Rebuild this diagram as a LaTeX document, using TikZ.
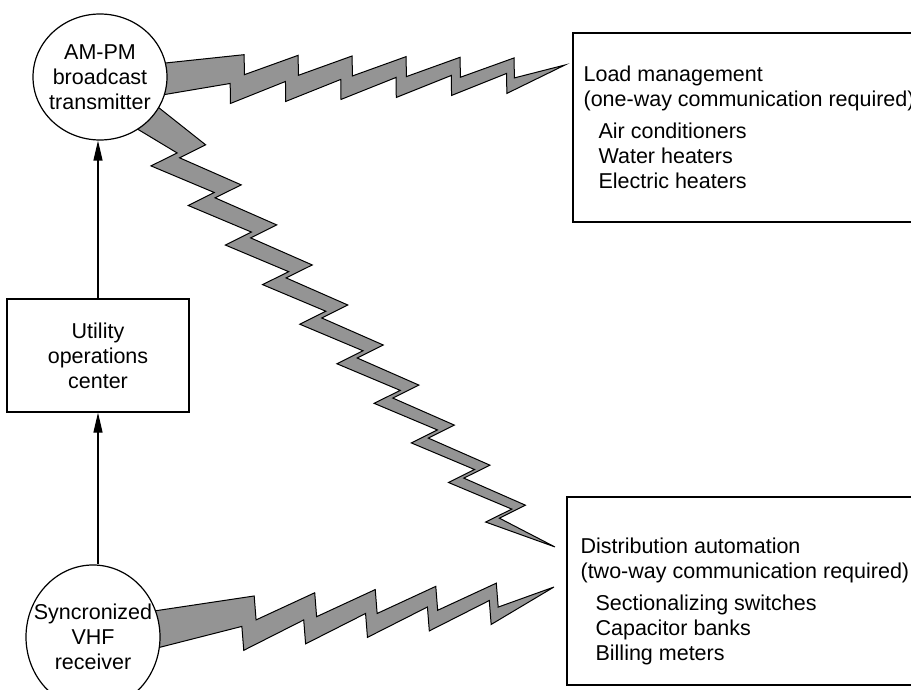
\documentclass[tikz,border=0pt]{standalone}
\usepackage{fontspec}
\setmainfont{Liberation Sans}
\usetikzlibrary{arrows.meta,shapes.geometric,backgrounds}

% zigzag band from #1 to #2: #3 steps, first step at #4,
% half width at start #5 and after it #6, step height #7, lean #8 (px)
\newcommand\bolt[8]{%
  \path (#1); \pgfgetlastxy{\boltax}{\boltay}
  \path (#2); \pgfgetlastxy{\boltbx}{\boltby}
  \pgfmathsetmacro\boltang{atan2(\boltby-\boltay,\boltbx-\boltax)}
  \pgfmathsetmacro\boltlen{2*veclen(\boltbx-\boltax,\boltby-\boltay)}
  \pgfmathsetmacro\boltstep{(\boltlen-#4)/#3}
  \begin{scope}[shift={(#1)},rotate=\boltang,x=0.5pt,y=0.5pt,
      declare function={dx(\x)=#4+(\x-1)*\boltstep; hw(\x)=#6*(1-0.6*dx(\x)/\boltlen);}]
    \filldraw[band] (-12,{#5-#7})
      \foreach \i in {1,...,#3}{
        -- ({dx(\i)+0.5*hw(\i)},{hw(\i)})
        -- ({dx(\i)-#8+0.5*hw(\i)},{hw(\i)-2*#7})}
      -- (\boltlen,0)
      \foreach \i in {#3,...,1}{
        -- ({dx(\i)-#8-0.5*hw(\i)},{-hw(\i)-2*#7})
        -- ({dx(\i)-0.5*hw(\i)},{-hw(\i)})}
      -- (-12,{-#5-#7}) -- cycle;
  \end{scope}}

\begin{document}
\begin{tikzpicture}[x=0.5pt,y=-0.5pt,line width=0.6pt,>={Triangle[length=10pt,width=4.5pt]},
    every node/.style={font=\fontsize{10.75}{12.5}\selectfont},
    station/.style={ellipse,draw,fill=white,inner sep=-6pt,align=center,minimum width=67pt},
    block/.style={rectangle,draw,fill=white,minimum width=91pt,minimum height=56.5pt,align=center},
    panel/.style={rectangle,draw,minimum width=200pt},
    note/.style={anchor=west,align=left,inner sep=0pt},
    band/.style={fill=black!42,draw=black,line width=0.5pt}]
  \useasboundingbox (0,0) rectangle (911,690);
  \clip (0,0) rectangle (911,690);

  \node[station,minimum height=63pt] (tx)  at (100,77)  {AM-PM\\broadcast\\transmitter};
  \node[block]                       (uoc) at (98,355.5) {Utility\\operations\\center};
  \node[station,minimum height=72pt] (rx)  at (93,637)  {Syncronized\\VHF\\receiver};

  \node[panel,minimum height=94.5pt] (lm) at (773,127.5) {};
  \node[panel,minimum height=94pt]   (da) at (767,591) {};
  \node[note] (lmtext) at (583,127) {Load management\\(one-way communication required)\\[3.5pt]
    \hspace*{7.5pt}Air conditioners\\\hspace*{7.5pt}Water heaters\\\hspace*{7.5pt}Electric heaters};
  \node[note] (datext) at (580,601) {Distribution automation\\(two-way communication required)\\[3.5pt]
    \hspace*{7.5pt}Sectionalizing switches\\\hspace*{7.5pt}Capacitor banks\\\hspace*{7.5pt}Billing meters};

  \coordinate (lmend) at (565,65);
  \coordinate (daend) at (555,547);
  \coordinate (rxend) at (554,587);

  \draw[->] (uoc.north) -- (uoc.north |- tx.south);
  \draw[->] (uoc.south |- rx.north) -- (uoc.south);

  \begin{scope}[on background layer]
    \bolt{tx.6}{lmend}{6}{70}{16}{16}{10}{0}
    \bolt{tx.-31}{daend}{10}{51}{16}{14}{14}{8}
    \bolt{rx.16}{rxend}{5}{90}{19}{17}{12}{0}
  \end{scope}
\end{tikzpicture}
\end{document}
